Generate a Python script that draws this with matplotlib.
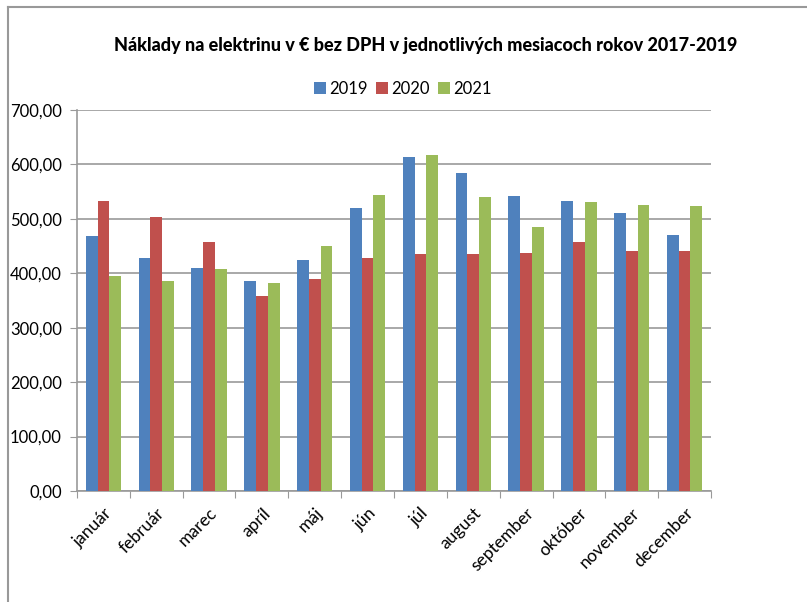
import matplotlib
matplotlib.use("Agg")
import matplotlib.pyplot as plt
from matplotlib.lines import Line2D
import numpy as np

# Mesiace a náklady (€ bez DPH), odčítané z grafu
mesiace = ["január", "február", "marec", "apríl", "máj", "jún",
           "júl", "august", "september", "október", "november", "december"]
roky = ["2019", "2020", "2021"]
naklady_2019 = [468, 428, 410, 385, 425, 520, 613, 585, 542, 533, 510, 470]
naklady_2020 = [533, 503, 458, 358, 390, 428, 436, 436, 438, 458, 441, 441]
naklady_2021 = [395, 385, 407, 383, 450, 543, 618, 540, 485, 531, 525, 523]
y_ticks = [0, 100, 200, 300, 400, 500, 600, 700]

farby = ["#4F81BD", "#C0504D", "#9BBB59"]
FONT = ["Lato", "DejaVu Sans"]

fig = plt.figure(figsize=(8.07, 6.02), dpi=100)
ax = fig.add_axes([77 / 807, 1 - 491 / 602, (711 - 77) / 807, (491 - 110) / 602])

x = np.arange(len(mesiace))
w = 1 / 4.5
for i, (data, c, r) in enumerate(zip([naklady_2019, naklady_2020, naklady_2021], farby, roky)):
    ax.bar(x + (i - 1) * w, data, width=w, color=c, label=r, zorder=3)

ax.set_xlim(-0.5, len(mesiace) - 0.5)
ax.set_ylim(0, 700)
ax.set_yticks(y_ticks)
ax.set_yticklabels([f"{v:.2f}".replace(".", ",") for v in y_ticks], fontfamily=FONT, fontsize=12)
ax.yaxis.grid(True, color="#999999", linewidth=1.2, zorder=0)

# Excel-style category ticks at boundaries
ax.set_xticks(np.arange(-0.5, len(mesiace)), minor=False)
ax.set_xticklabels([])
ax.set_xticks(x, minor=True)
ax.set_xticklabels(mesiace, minor=True, rotation=45, ha="right",
                   rotation_mode="anchor", fontfamily=FONT, fontsize=12.5)
ax.tick_params(axis="x", which="minor", length=0, pad=10)
ax.tick_params(axis="x", which="major", length=5, color="#999999", direction="out")
ax.tick_params(axis="y", length=5, color="#999999", direction="out", pad=6)

for s in ["top", "right"]:
    ax.spines[s].set_visible(False)
for s in ["left", "bottom"]:
    ax.spines[s].set_color("#999999")
    ax.spines[s].set_linewidth(1.2)

fig.text(426 / 807, 1 - 45 / 602,
         "Náklady na elektrinu v € bez DPH v jednotlivých mesiacoch rokov 2017-2019",
         ha="center", va="center", fontsize=13, fontweight=900, fontfamily=FONT)

leg = fig.legend(loc="center", bbox_to_anchor=(403 / 807, 1 - 89 / 602), ncol=3,
                 frameon=False, prop={"family": FONT, "size": 12},
                 handlelength=0.7, handleheight=0.7, handletextpad=0.2, columnspacing=0.5)

# chart border
fig.add_artist(Line2D([8 / 807, 8 / 807], [0, 1 - 7 / 602], transform=fig.transFigure,
                      color="#999999", linewidth=1.5))
fig.add_artist(Line2D([8 / 807, 1], [1 - 7 / 602, 1 - 7 / 602], transform=fig.transFigure,
                      color="#999999", linewidth=1.5))

fig.savefig("out.png", dpi=100)
